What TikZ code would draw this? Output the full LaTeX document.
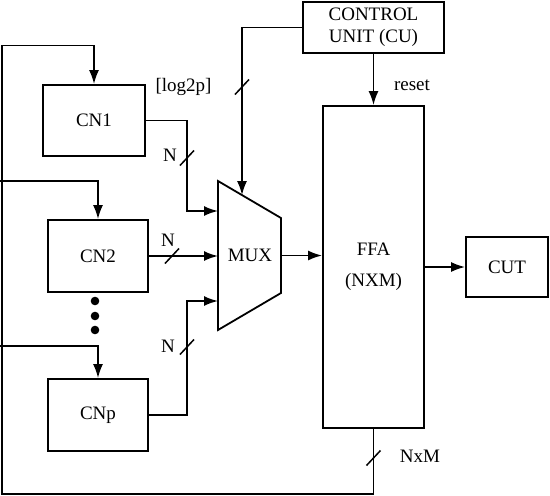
\documentclass[tikz,border=0pt]{standalone}
\usepackage{fontspec}
\setmainfont{Liberation Serif}
\usetikzlibrary{arrows.meta}
\tikzset{
  busslash/.pic={\draw[line width=1.5pt] (-7,7.5) -- (7,-7.5);}
}
\begin{document}
\begin{tikzpicture}[x=1pt,y=-1pt,
  txt/.style={font=\fontsize{19}{22}\selectfont},
  box/.style={draw, line width=1.8pt, inner sep=0pt, txt, align=center},
  wire/.style={line width=1.8pt},
  arr/.style={wire, -{Latex[length=14pt,width=10pt]}},
  lbl/.style={txt, inner sep=0pt}]
\useasboundingbox (0,0) rectangle (550,496);

% blocks
\node[box, minimum width=102, minimum height=71] (cn1) at (94,120.5) {CN1};
\node[box, minimum width=100, minimum height=72] (cn2) at (98,256) {CN2};
\node[box, minimum width=100, minimum height=72] (cnp) at (98,415) {CNp};
\node[box, minimum width=141, minimum height=51] (cu) at (373.5,27.5) {CONTROL\\UNIT (CU)};
\node[box, minimum width=101, minimum height=322] (ffa) at (373.5,267) {FFA\\[9pt](NXM)};
\node[box, minimum width=82, minimum height=60] (cut) at (507,267) {CUT};

% multiplexer
\coordinate (mtl) at (218,181);
\coordinate (mtr) at (281,218);
\coordinate (mbr) at (281,293);
\coordinate (mbl) at (218,330);
\draw[wire, line join=miter] (mtl) -- (mtr) -- (mbr) -- (mbl) -- cycle;
\node[lbl] (mux) at (250,255) {MUX};
\coordinate (m1) at (218,211);
\coordinate (m2) at (218,256);
\coordinate (m3) at (218,301);
\coordinate (msel) at (242,195.1);
\coordinate (mout) at (281,255.5);

% dots between CN2 and CNp
\foreach \yy/\nm in {301/d1,316/d2,330/d3}
  \fill (95,\yy) circle (4.3pt) coordinate (\nm);

% feedback path
\coordinate (fbl) at (2,494);
\coordinate (fbt) at (2,45.5);
\coordinate (br2) at (0,181);
\coordinate (brp) at (0,346);
\draw[arr] (ffa.south) |- (fbl) -- (fbt) -| (cn1.north);
\draw[arr] (br2) -| (cn2.north);
\draw[arr] (brp) -| (cnp.north);

% data paths into the multiplexer
\draw[arr] (cn1.east) -| (187,211) -- (m1);
\draw[arr] (cn2.east) -- (m2);
\draw[arr] (cnp.east) -| (187,301) -- (m3);
\draw[arr] (cu.west) -| (msel);
\draw[arr] (mout) -- (ffa.west |- mout);
\draw[arr] (cu.south) -- (ffa.north);
\draw[arr] (ffa.east) -- (cut.west);

% bus widths
\pic at (187,158) {busslash};
\pic at (172,256) {busslash};
\pic at (187,347) {busslash};
\pic at (242,87) {busslash};
\pic at (373.5,458) {busslash};

\node[lbl] (n1) at (170,155) {N};
\node[lbl] (n2) at (168,240) {N};
\node[lbl] (n3) at (168,346) {N};
\node[lbl] (lg) at (183.5,87) {[log2p]};
\node[lbl] (rs) at (412,85) {reset};
\node[lbl] (nm) at (420,456) {NxM};
\end{tikzpicture}
\end{document}
